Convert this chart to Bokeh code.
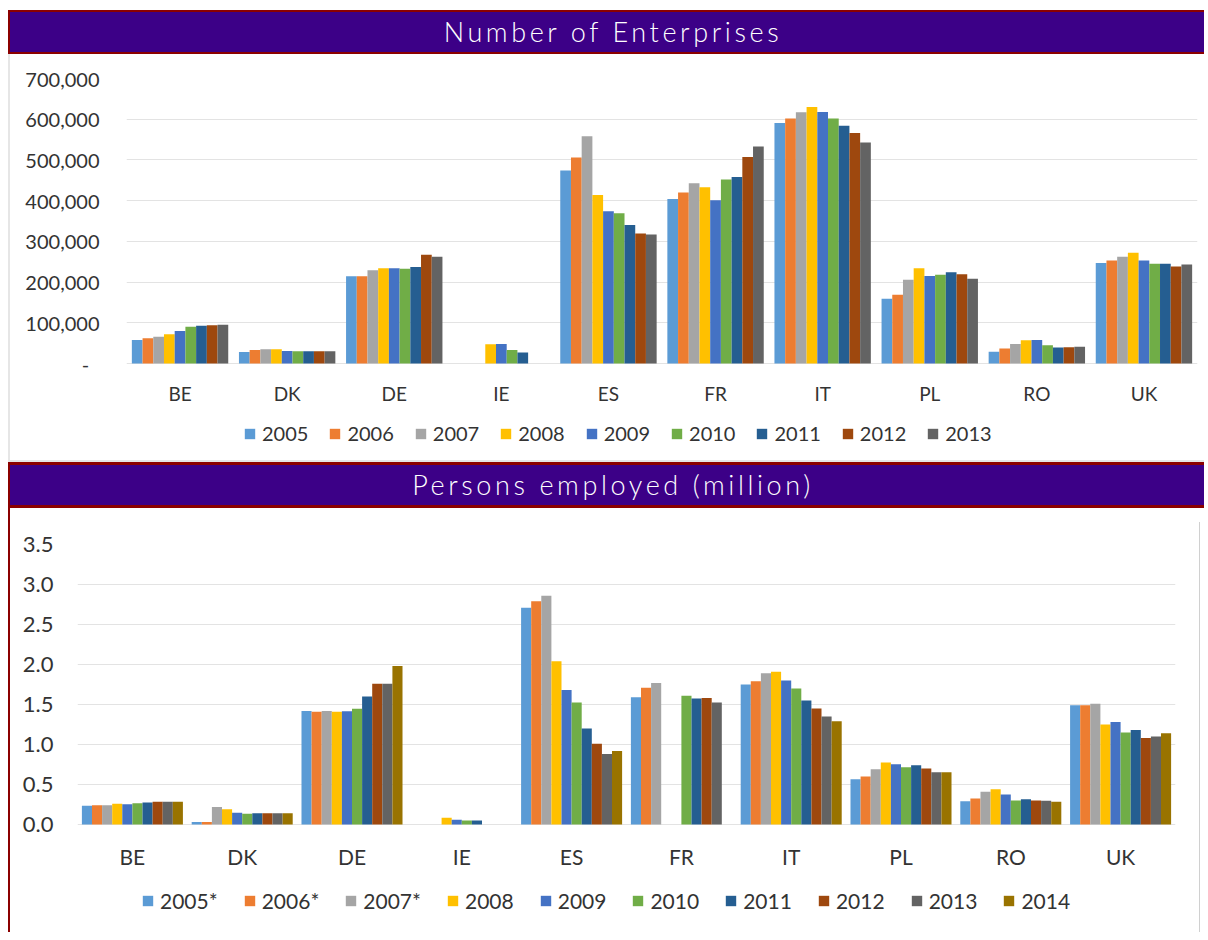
import numpy as np
from bokeh.plotting import figure
from bokeh.models import (ColumnDataSource, FactorRange, Range1d, FixedTicker,
                          NumeralTickFormatter, Legend, LegendItem, Div)
from bokeh.layouts import column, row
from bokeh.transform import dodge
from bokeh.embed import file_html
from bokeh.resources import INLINE

countries = ["BE", "DK", "DE", "IE", "ES", "FR", "IT", "PL", "RO", "UK"]

# Number of enterprises
ent_years = ["2005", "2006", "2007", "2008", "2009", "2010", "2011", "2012", "2013"]
ent_2005 = [58000, 28000, 214000, None, 474000, 404000, 591000, 159000, 29000, 247000]
ent_2006 = [62000, 33000, 214000, None, 506000, 420000, 602000, 169000, 37000, 253000]
ent_2007 = [66000, 35000, 229000, None, 558000, 443000, 617000, 206000, 48000, 262000]
ent_2008 = [72000, 35000, 234000, 47000, 414000, 433000, 630000, 234000, 57000, 272000]
ent_2009 = [80000, 31000, 234000, 48000, 374000, 401000, 618000, 215000, 58000, 253000]
ent_2010 = [90000, 30000, 233000, 33000, 369000, 452000, 602000, 218000, 45000, 245000]
ent_2011 = [93000, 30000, 237000, 27000, 340000, 458000, 584000, 224000, 39000, 245000]
ent_2012 = [94000, 30000, 267000, None, 319000, 507000, 566000, 219000, 40000, 238000]
ent_2013 = [95000, 30000, 262000, None, 317000, 533000, 543000, 208000, 41000, 243000]
ent_values = [ent_2005, ent_2006, ent_2007, ent_2008, ent_2009, ent_2010, ent_2011, ent_2012, ent_2013]
ent_ticks = [0, 100000, 200000, 300000, 400000, 500000, 600000, 700000]

# Persons employed (million)
emp_years = ["2005*", "2006*", "2007*", "2008", "2009", "2010", "2011", "2012", "2013", "2014"]
emp_2005 = [0.233, 0.03, 1.42, None, 2.71, 1.59, 1.75, 0.567, 0.29, 1.49]
emp_2006 = [0.24, 0.03, 1.41, None, 2.79, 1.71, 1.79, 0.60, 0.325, 1.49]
emp_2007 = [0.24, 0.22, 1.42, None, 2.86, 1.77, 1.89, 0.69, 0.41, 1.51]
emp_2008 = [0.26, 0.19, 1.41, 0.083, 2.04, None, 1.91, 0.775, 0.44, 1.25]
emp_2009 = [0.254, 0.146, 1.417, 0.06, 1.68, None, 1.80, 0.754, 0.375, 1.28]
emp_2010 = [0.267, 0.133, 1.446, 0.05, 1.525, 1.61, 1.70, 0.717, 0.30, 1.15]
emp_2011 = [0.275, 0.14, 1.60, 0.05, 1.20, 1.575, 1.55, 0.74, 0.317, 1.18]
emp_2012 = [0.283, 0.14, 1.76, None, 1.01, 1.58, 1.45, 0.70, 0.30, 1.08]
emp_2013 = [0.283, 0.14, 1.76, None, 0.88, 1.525, 1.35, 0.654, 0.296, 1.10]
emp_2014 = [0.283, 0.14, 1.98, None, 0.92, None, 1.29, 0.654, 0.283, 1.14]
emp_values = [emp_2005, emp_2006, emp_2007, emp_2008, emp_2009, emp_2010, emp_2011, emp_2012, emp_2013, emp_2014]
emp_ticks = [0, 0.5, 1.0, 1.5, 2.0, 2.5, 3.0, 3.5]

palette = ["#5B9BD5", "#ED7D31", "#A5A5A5", "#FFC000", "#4472C4",
           "#70AD47", "#255E91", "#9E480E", "#636363", "#997300"]

FONT = "Lato"
TXT = "#333333"
PURPLE = "#3C0087"
RED = "#8B0000"
NO_MARGIN = (0, 0, 0, 0)
BAR_W = 1196


def to_float(lst):
    return np.array([np.nan if v is None else v for v in lst], dtype=float)


def title_bar(text, border, top_pad, top_color, height):
    inner = height - top_pad - 2 * border
    html = (f'<div style="width:{BAR_W}px;height:{height}px;box-sizing:border-box;'
            f'border-top:{top_pad}px solid {top_color};overflow:hidden;">'
            f'<div style="box-sizing:border-box;width:{BAR_W}px;height:{inner + 2 * border}px;'
            f'background:{PURPLE};'
            f'border-top:{border}px solid {RED};border-bottom:{border}px solid {RED};'
            f'border-left:2px solid {RED};color:#ffffff;font-family:Lato;font-weight:300;'
            f'font-size:27px;letter-spacing:3.6px;text-align:center;line-height:{inner}px;'
            f'white-space:nowrap;">'
            f'<span style="position:relative;left:6px;">{text}</span></div></div>')
    return Div(text=html, width=BAR_W, height=height, margin=NO_MARGIN,
               styles={"overflow": "hidden"})


def bar_chart(years, values, width, height, y_end, ticks, fmt, overrides,
              step, bw, border_lrt, px_top, px_zero, font_px, leg_font_px,
              leg_loc, label_standoff_x, label_standoff_y, leg_spacing):
    # pixel plan (relative to the figure): frame from px_top to height-2,
    # zero line at px_zero; the frame extends below zero to hold labels/legend
    frame_bottom = height - 2
    y_start = -y_end * (frame_bottom - px_zero) / (px_zero - px_top)
    data = {"country": countries}
    for i, v in enumerate(values):
        data[f"s{i}"] = to_float(v)
    src = ColumnDataSource(data)
    p = figure(x_range=FactorRange(*countries), y_range=Range1d(y_start, y_end),
               width=width, height=height, output_backend="svg",
               toolbar_location=None, min_border_left=border_lrt[0],
               min_border_right=border_lrt[1], min_border_top=px_top,
               min_border_bottom=2, margin=NO_MARGIN)
    p.outline_line_color = None
    p.background_fill_color = "white"
    p.border_fill_color = "white"
    n = len(years)
    items = []
    for i, yr in enumerate(years):
        off = (i - (n - 1) / 2.0) * step
        r = p.vbar(x=dodge("country", off, range=p.x_range), top=f"s{i}", width=bw,
                   source=src, fill_color=palette[i], line_color=None)
        items.append(LegendItem(label=yr, renderers=[r]))
    p.xgrid.grid_line_color = None
    p.ygrid.grid_line_color = "#E3E3E3"
    p.ygrid.grid_line_width = 1
    p.yaxis.ticker = FixedTicker(ticks=ticks)
    p.yaxis.formatter = NumeralTickFormatter(format=fmt)
    if overrides:
        p.yaxis.major_label_overrides = overrides
    for ax in (p.xaxis[0], p.yaxis[0]):
        ax.axis_line_color = None
        ax.major_tick_line_color = None
        ax.minor_tick_line_color = None
        ax.major_tick_out = 0
        ax.major_tick_in = 0
        ax.major_label_text_font = FONT
        ax.major_label_text_font_size = f"{font_px}px"
        ax.major_label_text_color = TXT
    p.xaxis.fixed_location = 0
    p.xaxis.major_label_standoff = label_standoff_x
    p.yaxis.major_label_standoff = label_standoff_y
    p.xaxis.major_label_text_font_size = f"{font_px - 1}px"
    leg = Legend(items=items, orientation="horizontal", location=leg_loc,
                 padding=0, margin=0, spacing=leg_spacing, label_standoff=6,
                 glyph_width=13, glyph_height=13, label_height=20,
                 label_text_font=FONT, label_text_font_size=f"{leg_font_px}px",
                 label_text_color=TXT, border_line_color=None,
                 background_fill_alpha=0)
    p.add_layout(leg)
    p.toolbar.logo = None
    return p


# top figure spans page y 54..460 ; bottom figure spans page y 508..932
p1 = bar_chart(ent_years, ent_values, 1190, 406, 700000, ent_ticks, "0,0",
               {0: "-\u00a0\u00a0"}, 0.1, 0.1, (116, 3), 24, 309, 20, 20,
               (117, 13), 18, 27, 20)
p2 = bar_chart(emp_years, emp_values, 1189, 424, 3.5, emp_ticks, "0.0", None,
               0.092, 0.092, (67, 24), 36, 316, 22, 21, (64, 17), 19, 24, 25)

bar1 = title_bar("Number of Enterprises", 2, 2, "white", 46)
bar2 = title_bar("Persons employed (million)", 3, 2, "#E6E6E6", 48)

edge1 = Div(text="", width=2, height=406, margin=NO_MARGIN,
            styles={"background-color": "#E6E6E6"})
edge2 = Div(text="", width=2, height=424, margin=NO_MARGIN,
            styles={"background-color": RED})
edge3 = Div(text='<div style="width:1px;height:410px;margin-top:14px;background:#D0D0D0"></div>',
            width=1, height=424, margin=NO_MARGIN, styles={"overflow": "hidden"})

layout = column(bar1, row(edge1, p1, margin=NO_MARGIN), bar2,
                row(edge2, p2, edge3, margin=NO_MARGIN), margin=(8, 0, 0, 8))

open("out.html", "w").write(file_html(layout, INLINE))
